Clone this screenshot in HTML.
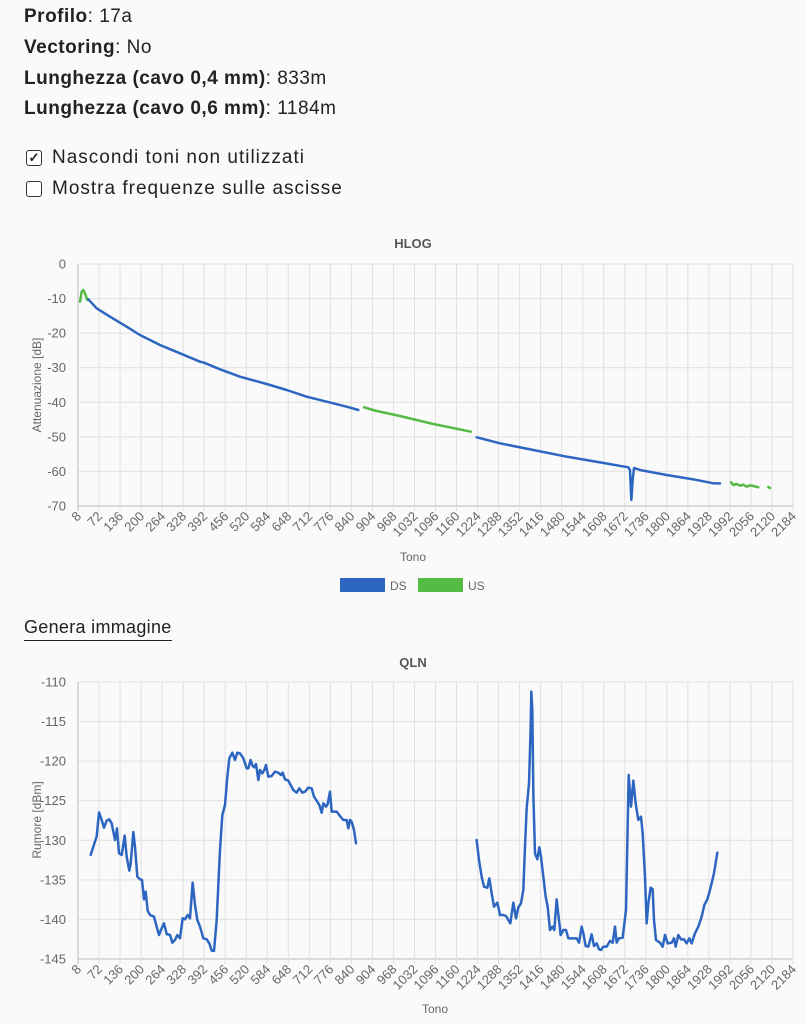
<!DOCTYPE html>
<html><head><meta charset="utf-8"><style>
body{margin:0;background:#fafafa;width:806px;height:1024px;overflow:hidden;font-family:"Liberation Sans",sans-serif;color:#222}
.l{position:absolute;left:24px;font-size:19px;letter-spacing:0.5px}
.c{letter-spacing:1px}
.cb{position:absolute;left:26px;width:14px;height:14px;border:1.5px solid #333;border-radius:3px;background:#fff}
svg{position:absolute;left:0;top:0}
</style></head><body>
<div class="l" style="top:6px"><b>Profilo</b>: 17a</div>
<div class="l" style="top:37px"><b>Vectoring</b>: No</div>
<div class="l" style="top:68px"><b>Lunghezza (cavo 0,4 mm)</b>: 833m</div>
<div class="l" style="top:98px"><b>Lunghezza (cavo 0,6 mm)</b>: 1184m</div>
<div class="cb" style="top:150px;font-size:13px;line-height:14px;text-align:center;font-weight:bold">✓</div>
<div class="l c" style="top:147px;left:52px">Nascondi toni non utilizzati</div>
<div class="cb" style="top:181px"></div>
<div class="l c" style="top:178px;left:52px">Mostra frequenze sulle ascisse</div>
<div class="l" style="top:617px;font-size:18px;letter-spacing:0.3px;border-bottom:1.5px solid #222;padding-bottom:2px">Genera immagine</div>
<svg id="s" width="806" height="1024" font-family="Liberation Sans, sans-serif">
<text x="413" y="248" text-anchor="middle" font-size="13" font-weight="bold" fill="#555">HLOG</text>
<text x="413" y="667" text-anchor="middle" font-size="13" font-weight="bold" fill="#555">QLN</text>
<text x="413" y="561" text-anchor="middle" font-size="12" fill="#666">Tono</text>
<text x="435" y="1013" text-anchor="middle" font-size="12" fill="#666">Tono</text>
<text transform="translate(41,385) rotate(-90)" text-anchor="middle" font-size="12" fill="#666">Attenuazione [dB]</text>
<text transform="translate(41,820) rotate(-90)" text-anchor="middle" font-size="12" fill="#666">Rumore [dBm]</text>
<rect x="340" y="578" width="45" height="14" fill="#2d66c0"/><text x="390" y="590" font-size="12" fill="#666">DS</text>
<rect x="418" y="578" width="45" height="14" fill="#55bb44"/><text x="468" y="590" font-size="12" fill="#666">US</text>
<g id="grid"></g>
<g fill="none" stroke-width="2.5" stroke-linejoin="round" stroke-linecap="round">
<g transform="translate(0,230) scale(0.33333)">
<polyline vector-effect="non-scaling-stroke" stroke="#55bb44" points="240,215 245,185 250,180 255,190 262,210"/>
<polyline vector-effect="non-scaling-stroke" stroke="#2d66c0" points="265,208 290,235 330,260 380,290 420,315 480,345 540,370 600,395 612,398 660,418 720,440 800,462 860,480 920,500 980,515 1040,530 1075,540"/>
<polyline vector-effect="non-scaling-stroke" stroke="#55bb44" points="1092,532 1130,543 1200,558 1300,582 1413,605"/>
<polyline vector-effect="non-scaling-stroke" stroke="#2d66c0" points="1430,622 1500,640 1600,660 1700,680 1800,697 1885,712 1890,720 1894,810 1898,750 1902,714 1920,720 2000,735 2080,748 2140,760 2160,760"/>
<polyline vector-effect="non-scaling-stroke" stroke="#55bb44" points="2193,757 2200,765 2210,762 2220,767 2230,764 2240,770 2250,766 2260,768 2275,772"/>
<polyline vector-effect="non-scaling-stroke" stroke="#55bb44" points="2305,771 2310,774"/>
</g>
<g transform="translate(0,660) scale(0.33333)" stroke="#2d66c0">
<polyline vector-effect="non-scaling-stroke" points="272,585 280,560 290,530 297,457 305,480 312,503 320,482 328,478 335,490 345,540 351,505 357,580 365,585 374,527 380,590 388,632 392,610 400,516 405,560 412,650 420,658 426,660 432,718 437,695 443,752 450,765 462,770 470,800 477,825 485,805 492,790 500,822 510,825 517,848 525,840 532,825 540,835 548,775 555,778 563,765 570,775 578,668 585,735 592,780 600,800 610,835 620,838 628,850 635,872 642,873 650,780 660,570 667,465 675,435 682,350 688,295 697,278 705,300 712,278 720,280 730,295 740,325 745,325 752,300 758,318 763,322 768,312 775,360 780,330 787,340 793,330 798,315 805,350 815,348 825,335 835,338 843,345 848,338 855,358 865,362 872,375 880,390 890,398 898,385 907,398 915,395 925,383 935,385 942,410 950,422 958,435 965,458 970,430 978,440 983,432 990,395 995,455 1003,455 1010,455 1020,468 1030,480 1040,480 1045,505 1050,480 1055,485 1062,510 1068,550"/>
<polyline vector-effect="non-scaling-stroke" transform="translate(1200,0)" points="230,540 237,600 245,650 252,680 262,683 268,655 275,700 282,740 292,728 300,765 310,765 318,768 325,780 331,790 340,728 348,775 355,742 363,730 370,690 375,560 380,445 387,370 392,200 394,95 397,150 400,400 405,580 412,598 418,562 423,590 430,650 437,710 443,740 450,810 457,800 463,810 470,718 476,772 482,825 490,810 498,810 505,835 520,835 530,835 537,848 545,800 550,820 557,858 565,860 575,823 582,858 590,850 597,868 603,870 610,860 620,860 630,843 638,848 645,800 650,848 657,835 668,833 678,750 683,500 686,345 693,440 700,362 707,430 715,480 723,470 728,520 735,650 740,790 745,730 752,683 758,688 762,780 768,840 780,848 788,860 795,825 803,850 815,848 822,835 827,860 835,825 843,838 852,838 860,850 868,835 875,850 885,820 895,800 905,770 913,735 922,718 930,690 942,640 952,578"/>
</g></g>
</svg>
<script>
var g=document.getElementById('grid'),h='';
function chart(top,bot,labels){
 var n=labels.length-1;
 for(var i=0;i<=n;i++){var y=top+(bot-top)*i/n;
  h+='<line x1="78" x2="793" y1="'+y+'" y2="'+y+'" stroke="'+(i==n?'#bbb':'#e0e0e0')+'"/>';
  h+='<text x="66" y="'+(y+4.5)+'" text-anchor="end" font-size="13" fill="#666">'+labels[i]+'</text>';}
 for(var k=0;k<=34;k++){var x=78+k*715/34,t=8+64*k;
  h+='<line x1="'+x+'" x2="'+x+'" y1="'+top+'" y2="'+(bot+5)+'" stroke="'+(k==0?'#bbb':'#e0e0e0')+'"/>';
  h+='<text transform="translate('+(x+4)+','+(bot+11)+') rotate(-45)" text-anchor="end" font-size="13" fill="#666">'+t+'</text>';}
}
chart(264,506,['0','-10','-20','-30','-40','-50','-60','-70']);
chart(682,959,['-110','-115','-120','-125','-130','-135','-140','-145']);
g.innerHTML=h;
</script>
</body></html>
